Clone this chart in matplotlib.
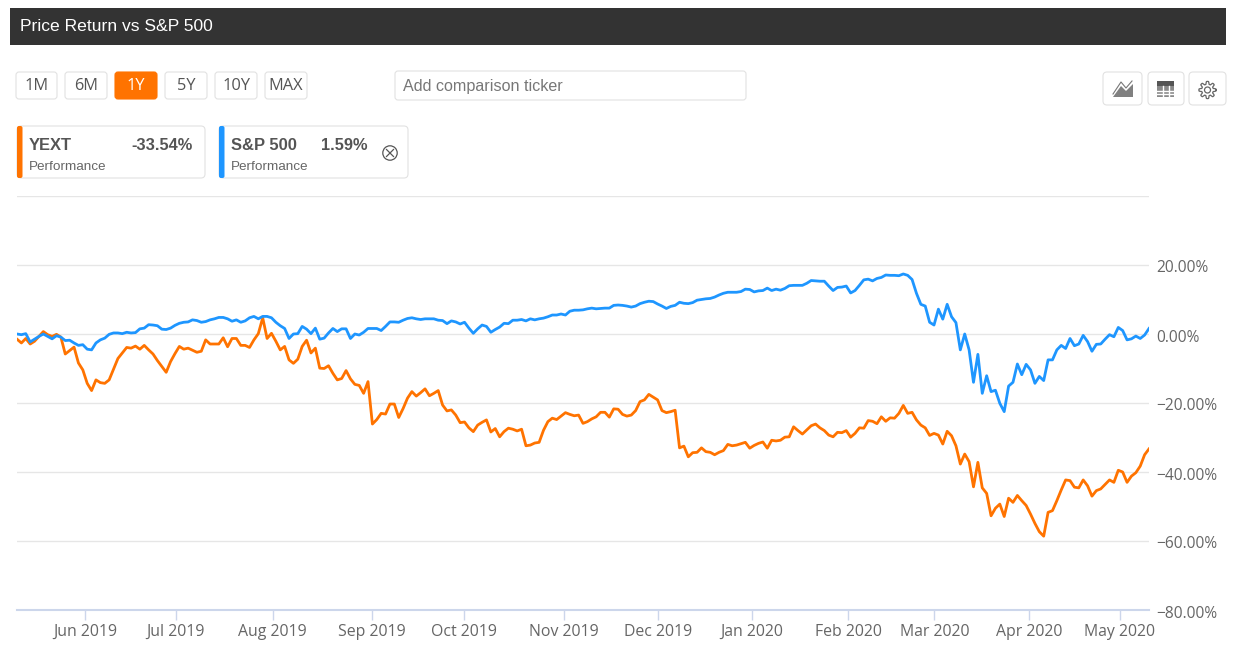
# Price return vs S&P 500 panel: one year of daily % returns plus the page controls

import matplotlib
matplotlib.use("Agg")
import matplotlib.pyplot as plt
import numpy as np
from matplotlib.patches import Circle, FancyBboxPatch, Polygon, Rectangle
from matplotlib.transforms import ScaledTranslation

# values, one per trading day, in percent
yext = [
    -1.5, -2.6, -1.3, -2.9, -2.1, -0.7, 0.7, -0.2, -0.7, -0.1, -0.9, -5.8, -4.8, -3.8, -8.4,
    -10.4, -14.3, -16.4, -13.3, -14.1, -14.3, -13.3, -10.2, -7.1, -5.5, -3.9, -4.1, -3.5, -4.4, -3.3,
    -4.6, -5.8, -7.7, -9.4, -11.1, -8.0, -5.7, -3.6, -4.4, -4.1, -4.7, -5.3, -5.0, -1.7, -2.9,
    -2.9, -2.9, -1.1, -3.7, -1.3, -1.3, -3.3, -3.3, -3.9, -1.7, 0.1, 4.7, -1.3, 0.2, -2.1,
    -4.6, -3.6, -7.5, -8.5, -7.3, -3.6, -1.8, -5.5, -4.1, -9.9, -10.0, -9.2, -11.4, -13.3, -12.9,
    -10.6, -13.0, -14.6, -14.9, -17.2, -13.8, -26.1, -24.8, -23.0, -23.2, -20.3, -20.3, -24.2, -21.6, -18.6,
    -16.7, -18.0, -17.0, -15.9, -17.9, -17.2, -16.4, -20.6, -22.3, -22.0, -23.5, -25.7, -25.5, -27.2, -28.3,
    -26.4, -25.6, -24.9, -28.4, -27.4, -29.8, -28.3, -27.3, -27.6, -28.1, -27.6, -32.4, -32.2, -31.6, -31.4,
    -27.9, -25.4, -24.4, -24.8, -23.8, -22.8, -23.3, -23.7, -23.5, -25.9, -25.4, -24.6, -24.0, -22.7, -22.7,
    -24.1, -21.7, -21.8, -23.3, -23.8, -23.5, -22.2, -19.6, -19.1, -17.5, -18.3, -19.1, -22.2, -22.8, -22.5,
    -22.1, -33.0, -32.5, -35.6, -34.4, -34.3, -33.0, -34.1, -34.3, -35.0, -34.3, -33.8, -32.0, -32.4, -32.2,
    -31.8, -31.4, -33.1, -32.3, -31.7, -31.3, -33.1, -30.8, -31.0, -30.8, -29.9, -29.8, -26.9, -28.0, -29.0,
    -27.8, -26.6, -26.1, -27.2, -28.0, -29.3, -29.8, -28.5, -28.6, -28.0, -29.9, -28.8, -27.2, -27.3, -25.1,
    -25.3, -26.0, -24.0, -25.3, -24.3, -24.4, -23.0, -20.7, -23.0, -22.7, -24.9, -26.4, -27.2, -29.4, -28.8,
    -29.3, -31.9, -28.2, -29.5, -32.4, -37.7, -34.8, -37.0, -44.3, -37.2, -44.6, -46.2, -52.7, -50.5, -49.3,
    -52.9, -47.6, -48.8, -46.8, -48.3, -49.7, -52.2, -54.9, -57.3, -58.6, -51.7, -51.2, -48.3, -45.2, -42.3,
    -42.5, -44.4, -44.6, -42.3, -44.0, -47.0, -45.4, -44.9, -43.6, -42.3, -43.0, -39.5, -40.0, -43.0, -41.2,
    -40.2, -38.3, -35.0, -33.3,
]
sp500 = [
    0.0, -0.2, 0.1, -2.3, -1.5, -0.7, 0.0, -0.7, -1.4, -0.5, -0.9, -1.9, -1.8, -2.6, -3.3,
    -3.1, -4.4, -4.6, -2.6, -1.7, -1.2, -0.1, 0.3, 0.3, 0.1, 0.5, 0.3, 0.4, 1.5, 1.7,
    2.7, 2.6, 2.4, 1.4, 1.3, 1.7, 2.5, 3.1, 3.4, 3.5, 4.1, 3.9, 3.4, 3.6, 4.1,
    4.4, 4.8, 4.8, 4.4, 3.7, 4.1, 3.4, 3.8, 4.7, 5.1, 4.4, 5.1, 5.1, 4.7, 3.4,
    2.4, 1.6, -1.3, 0.0, 0.1, 2.2, 1.4, 0.1, 1.7, -1.5, -1.2, 0.3, 1.6, 0.7, 1.5,
    1.5, -1.3, 0.0, -0.3, 0.5, 1.6, 1.6, 1.6, 1.0, 2.2, 3.5, 3.5, 3.4, 4.0, 4.5,
    4.7, 4.4, 4.2, 4.4, 4.4, 4.4, 4.0, 3.9, 3.0, 3.8, 3.5, 2.9, 3.4, 1.7, 0.2,
    1.5, 2.6, 2.2, 0.5, 1.3, 2.0, 3.1, 3.0, 4.0, 4.0, 4.2, 3.8, 4.4, 4.1, 4.4,
    4.6, 5.0, 5.5, 5.5, 5.8, 5.5, 6.6, 6.9, 6.9, 7.0, 7.3, 7.5, 7.3, 7.4, 7.5,
    7.5, 8.3, 8.4, 8.3, 8.1, 7.8, 8.1, 8.8, 9.2, 9.5, 9.4, 8.7, 8.1, 7.4, 8.0,
    8.3, 9.2, 8.9, 8.8, 9.1, 9.8, 10.0, 10.2, 10.3, 10.7, 11.3, 11.8, 12.1, 12.1, 12.1,
    12.3, 13.0, 12.9, 12.2, 12.5, 12.6, 13.3, 12.6, 13.0, 12.7, 13.2, 14.0, 14.1, 14.1, 14.1,
    14.7, 15.5, 15.4, 15.3, 15.3, 13.9, 12.6, 13.5, 13.6, 13.9, 11.9, 12.6, 14.1, 15.7, 15.9,
    15.4, 16.1, 16.4, 17.1, 17.0, 17.0, 16.9, 17.4, 17.0, 15.8, 11.8, 8.6, 8.1, 3.4, 2.6,
    7.2, 4.3, 8.6, 5.0, 3.3, -4.6, 0.0, -4.6, -14.0, -5.9, -17.2, -12.1, -16.7, -16.3, -20.1,
    -22.5, -15.1, -14.0, -8.7, -11.8, -8.8, -10.4, -14.3, -12.3, -13.5, -7.5, -7.5, -4.6, -3.3, -4.2,
    -1.3, -3.4, -2.9, -0.4, -2.2, -5.0, -3.0, -2.9, -1.5, -0.2, -0.8, 1.9, 1.0, -1.7, -1.4,
    -0.6, -1.3, -0.3, 1.6,
]

month_labels = ["Jun 2019", "Jul 2019", "Aug 2019", "Sep 2019", "Oct 2019", "Nov 2019",
                "Dec 2019", "Jan 2020", "Feb 2020", "Mar 2020", "Apr 2020", "May 2020"]
# first trading day of each month, as index into the series
month_ticks = [15.5, 36.2, 58.3, 80.9, 101.8, 124.6, 146.1, 167.5, 189.5, 209.1, 230.6, 251.3]
y_ticks = [40, 20, 0, -20, -40, -60, -80]
range_buttons = ["1M", "6M", "1Y", "5Y", "10Y", "MAX"]

ORANGE = "#ff7300"
BLUE = "#1e96ff"
GREY_TEXT = "#666666"
CARD_TEXT = "#555555"
EDGE = "#e2e2e2"
SANS = "Liberation Sans"
THIN = "Open Sans"

W, H = 1241, 650
fig = plt.figure(figsize=(W / 100, H / 100), dpi=100, facecolor="white")

# chart area, placed by pixel edges
left, right, top, bottom = 17, 1149, 196, 610
ax = fig.add_axes([left / W, 1 - bottom / H, (right - left) / W, (bottom - top) / H])
ax.set_xlim(0, 258)
ax.set_ylim(-80, 40)
for side in ["top", "left", "right"]:
    ax.spines[side].set_visible(False)
ax.spines["bottom"].set_color("#ccd6eb")
ax.spines["bottom"].set_linewidth(1.5)
ax.set_yticks(y_ticks)
ax.set_yticklabels([""] + [f"{v:.2f}%".replace("-", "\u2212") for v in y_ticks[1:]],
                   family=THIN, fontsize=11.2, color=GREY_TEXT)
ax.yaxis.tick_right()
ax.tick_params(axis="y", length=0, pad=5)
ax.set_xticks(month_ticks)
ax.set_xticklabels(month_labels, family=THIN, fontsize=11.4, color=GREY_TEXT)
ax.tick_params(axis="x", length=7, width=1, color="#ccd6eb", pad=3)
ax.grid(axis="y", color="#e6e6e6", linewidth=1)
ax.set_axisbelow(True)
# the y labels sit a little under their grid lines
nudge = ScaledTranslation(0, -1.5 / 100, fig.dpi_scale_trans)
for label in ax.get_yticklabels():
    label.set_transform(label.get_transform() + nudge)

days = np.arange(len(yext))
ax.plot(days, yext, color=ORANGE, linewidth=2.0, solid_joinstyle="round", zorder=3)
ax.plot(np.arange(len(sp500)), sp500, color=BLUE, linewidth=2.0, solid_joinstyle="round", zorder=4)

# page controls on a second axes that works in pixels
ui = fig.add_axes([0, 0, 1, 1], facecolor="none")
ui.set_xlim(0, W)
ui.set_ylim(H, 0)
ui.axis("off")


def box(x0, y0, x1, y1, face="white", edge=EDGE, radius=3):
    ui.add_patch(FancyBboxPatch((x0 + radius, y0 + radius), x1 - x0 - 2 * radius, y1 - y0 - 2 * radius,
                                boxstyle=f"round,pad={radius},rounding_size={radius}",
                                facecolor=face, edgecolor=edge, linewidth=0.8))


ui.add_patch(Rectangle((10, 8), 1216, 37, facecolor="#333333", edgecolor="none"))
ui.text(20, 26.5, "Price Return vs S&P 500", family=SANS, fontsize=12.6, color="white", va="center")

button_edges = [(16, 57), (65, 107), (115, 157), (165, 207), (215, 257), (265, 307)]
for name, (x0, x1) in zip(range_buttons, button_edges):
    active = name == "1Y"
    box(x0, 72, x1, 99, face=ORANGE if active else "white", edge=ORANGE if active else EDGE)
    ui.text((x0 + x1) / 2, 86, name, family=THIN, fontsize=11.8,
            color="white" if active else CARD_TEXT, ha="center", va="center")

box(395, 71, 746, 100)
ui.text(403, 86, "Add comparison ticker", family=SANS, fontsize=11.6, color="#777777", va="center")


def card(x0, x1, colour, name, value, value_right):
    box(x0, 126, x1, 178, radius=4)
    ui.add_patch(FancyBboxPatch((x0 + 2, 128), 1.5, 48, boxstyle="round,pad=2,rounding_size=2",
                                facecolor=colour, edgecolor="none"))
    ui.text(x0 + 12, 145, name, family=SANS, fontsize=11.9, weight="bold", color=CARD_TEXT, va="center")
    ui.text(value_right, 145, value, family=SANS, fontsize=11.8, weight="bold", color=CARD_TEXT,
            va="center", ha="right")
    ui.text(x0 + 12, 167, "Performance", family=SANS, fontsize=9.7, color=GREY_TEXT, va="center")


card(17, 205, ORANGE, "YEXT", "-33.54%", 193)
card(219, 408, BLUE, "S&P 500", "1.59%", 368)

# close button on the S&P card
ui.add_patch(Circle((390, 153), 7.2, facecolor="white", edgecolor="#555555", linewidth=0.9))
ui.plot([386.5, 393.5], [149.5, 156.5], color="#555555", linewidth=0.9)
ui.plot([386.5, 393.5], [156.5, 149.5], color="#555555", linewidth=0.9)

# the three icon buttons, top right
box(1103, 72, 1142, 105, radius=4)
box(1148, 72, 1184, 105, radius=4)
box(1189, 72, 1226, 105, radius=4)

ui.add_patch(Polygon([(1113, 97), (1121, 86), (1126, 91), (1133, 84), (1133, 97)],
                     facecolor="#808080", edgecolor="none"))
ui.plot([1113, 1121, 1126, 1132], [94, 82, 88, 81], color="#777777", linewidth=0.8)

ui.add_patch(Rectangle((1157, 81), 17, 16, facecolor="#8a8a8a", edgecolor="none"))
ui.add_patch(Rectangle((1157, 81), 17, 5, facecolor="#555555", edgecolor="none"))
for gx in [1162.5, 1168.5]:
    ui.plot([gx, gx], [86, 97], color="white", linewidth=1.0)
for gy in [90.5, 94]:
    ui.plot([1157, 1174], [gy, gy], color="white", linewidth=1.0)

# gear outline
angle = np.linspace(0, 2 * np.pi, 97)
gear_r = 7.2 + 1.4 * np.tanh(3 * np.cos(8 * angle))
ui.plot(1207.5 + gear_r * np.cos(angle), 90 + gear_r * np.sin(angle), color="#666666", linewidth=0.9)
ui.add_patch(Circle((1207.5, 90), 3, facecolor="white", edgecolor="#666666", linewidth=0.9))

fig.savefig("out.png", dpi=100)
plt.close(fig)
